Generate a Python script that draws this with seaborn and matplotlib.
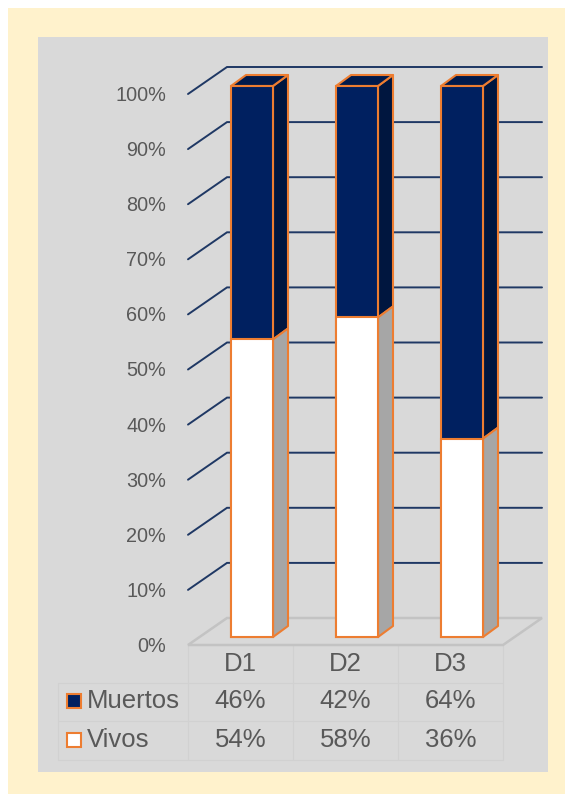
import numpy as np
import pandas as pd
import matplotlib
matplotlib.use("Agg")
import matplotlib.pyplot as plt
import seaborn as sns
from matplotlib.patches import Polygon, Rectangle
from matplotlib.lines import Line2D

# ---------------- data ----------------
categories = ["D1", "D2", "D3"]
muertos = [46, 42, 64]
vivos = [54, 58, 36]
series_names = ["Muertos", "Vivos"]
yticks = [0, 10, 20, 30, 40, 50, 60, 70, 80, 90, 100]
ytick_labels = [f"{v}%" for v in yticks]

# ---------------- style ----------------
NAVY = "#002060"
NAVY_SIDE = "#00163F"
NAVY_TOP = "#001A4C"
WHITE_SIDE = "#A6A6A6"
ORANGE = "#ED7D31"
GRID = "#1F3864"
FLOOR = "#C3C3C3"
TEXT = "#595959"
TABLE_LINE = "#D1D1D1"
PANEL = "#D9D9D9"
OUTER = "#FFF2CC"

W, H = 565, 794
sns.set_theme(style="white")
plt.rcParams["font.family"] = ["Liberation Sans", "DejaVu Sans"]

fig = plt.figure(figsize=(W / 100, H / 100), dpi=100, facecolor="white")

def fig_rect(x0, y0, x1, y1, color, z):
    fig.patches.append(Rectangle((x0 / W, 1 - y1 / H), (x1 - x0) / W, (y1 - y0) / H,
                                 transform=fig.transFigure, facecolor=color,
                                 edgecolor="none", zorder=z))

fig_rect(8, 8, W, H, OUTER, -3)
fig_rect(38, 37, 548, 772, PANEL, -2)

# axes = plane of the bar front faces
AX_L, AX_R, AX_B, AX_T = 199.5, 514.5, 637, 86
ax = fig.add_axes([AX_L / W, 1 - AX_B / H, (AX_R - AX_L) / W, (AX_B - AX_T) / H])
ax.patch.set_visible(False)

PXX = 3 / (AX_R - AX_L)      # data units per pixel (x)
PXY = 100 / (AX_B - AX_T)    # data units per pixel (y)
def dx(px):
    return px * PXX
def dy(px):
    return px * PXY

# depth offsets in pixels (right, up)
FRONT = (-11.5, -8)
BACK = (27.5, 19)
BAR_D = (15, 11)

df = pd.DataFrame({"categoria": categories, "Muertos": muertos, "Vivos": vivos})
df["Total"] = df["Muertos"] + df["Vivos"]

sns.barplot(data=df, x="categoria", y="Total", color=NAVY, saturation=1,
            width=0.4, edgecolor=ORANGE, linewidth=1.5, errorbar=None, ax=ax)
sns.barplot(data=df, x="categoria", y="Vivos", color="white", saturation=1,
            width=0.4, edgecolor=ORANGE, linewidth=1.5, errorbar=None, ax=ax)

n = len(categories)
bars = [p for p in ax.patches if isinstance(p, Rectangle)]
navy_bars, white_bars = bars[:n], bars[n:2 * n]

ax.set_xlim(-0.5, n - 0.5)
ax.set_ylim(0, 100)
ax.set_xlabel("")
ax.set_ylabel("")
ax.set_xticks([])
ax.set_yticks([])
for s in ax.spines.values():
    s.set_visible(False)

xl, xr = -0.5, n - 0.5

# gridlines (side wall diagonal + back wall)
for v in yticks[1:]:
    xs = [xl + dx(FRONT[0]), xl + dx(BACK[0]), xr + dx(BACK[0])]
    ys = [v + dy(FRONT[1]), v + dy(BACK[1]), v + dy(BACK[1])]
    ax.add_line(Line2D(xs, ys, color=GRID, lw=1.4, zorder=1, clip_on=False,
                       solid_joinstyle="miter"))

# floor
floor = Polygon([(xl + dx(FRONT[0]), dy(FRONT[1])), (xl + dx(BACK[0]), dy(BACK[1])),
                 (xr + dx(BACK[0]), dy(BACK[1])), (xr + dx(FRONT[0]), dy(FRONT[1]))],
                closed=True, facecolor="none", edgecolor=FLOOR, lw=1.8, zorder=1,
                clip_on=False)
ax.add_patch(floor)

# 3D faces
bx, by = dx(BAR_D[0]), dy(BAR_D[1])
for p, v in zip(navy_bars, vivos):
    x0 = p.get_x(); x1 = x0 + p.get_width(); top = p.get_height()
    side = Polygon([(x1, v), (x1, top), (x1 + bx, top + by), (x1 + bx, v + by)],
                   closed=True, facecolor=NAVY_SIDE, edgecolor=ORANGE, lw=1.5,
                   zorder=3, clip_on=False, joinstyle="round")
    tp = Polygon([(x0, top), (x1, top), (x1 + bx, top + by), (x0 + bx, top + by)],
                 closed=True, facecolor=NAVY_TOP, edgecolor=ORANGE, lw=1.5,
                 zorder=3, clip_on=False, joinstyle="round")
    ax.add_patch(side); ax.add_patch(tp)
    p.set_zorder(4); p.set_clip_on(False)
for p in white_bars:
    x0 = p.get_x(); x1 = x0 + p.get_width(); v = p.get_height()
    side = Polygon([(x1, 0), (x1, v), (x1 + bx, v + by), (x1 + bx, by)],
                   closed=True, facecolor=WHITE_SIDE, edgecolor=ORANGE, lw=1.5,
                   zorder=3.5, clip_on=False, joinstyle="round")
    ax.add_patch(side)
    p.set_zorder(5); p.set_clip_on(False)

# y tick labels (front plane)
for v, lab in zip(yticks, ytick_labels):
    ax.text(xl + dx(FRONT[0] - 22), v + dy(FRONT[1] - 1.5), lab, ha="right", va="center",
            fontsize=14.3, color=TEXT, clip_on=False)

# ---------------- data table ----------------
def ypx(y):
    return (AX_B - y) * PXY
def xpx(x):
    return xl + (x - AX_L) * PXX

TFS = 18.5
col_x = [i + dx(FRONT[0]) for i in range(n)]
for cx, c in zip(col_x, categories):
    ax.text(cx, ypx(664), c, ha="center", va="center", fontsize=TFS, color=TEXT, clip_on=False)
rows = [(series_names[0], muertos, NAVY, 701), (series_names[1], vivos, "white", 740)]
for name, vals, col, yy in rows:
    for cx, v in zip(col_x, vals):
        ax.text(cx, ypx(yy), f"{v}%", ha="center", va="center", fontsize=TFS,
                color=TEXT, clip_on=False)
    ax.add_patch(Rectangle((xpx(67), ypx(yy + 7)), dx(14), dy(14), facecolor=col,
                           edgecolor=ORANGE, lw=1.5, clip_on=False, zorder=3))
    ax.text(xpx(87), ypx(yy), name, ha="left", va="center", fontsize=TFS,
            color=TEXT, clip_on=False)

# table grid
b_left = xl + dx(FRONT[0])
b_right = xr + dx(FRONT[0])
label_left = xpx(58)
for i in range(n + 1):
    xx = b_left + i
    ax.add_line(Line2D([xx, xx], [ypx(645), ypx(760)], color=TABLE_LINE, lw=0.8,
                       zorder=0.8, clip_on=False))
ax.add_line(Line2D([label_left, label_left], [ypx(683), ypx(760)], color=TABLE_LINE,
                   lw=0.8, zorder=0.8, clip_on=False))
for yy in (683, 721, 760):
    ax.add_line(Line2D([label_left, b_right], [ypx(yy), ypx(yy)], color=TABLE_LINE,
                       lw=0.8, zorder=0.8, clip_on=False))

fig.savefig("out.png", dpi=100, facecolor=fig.get_facecolor())
